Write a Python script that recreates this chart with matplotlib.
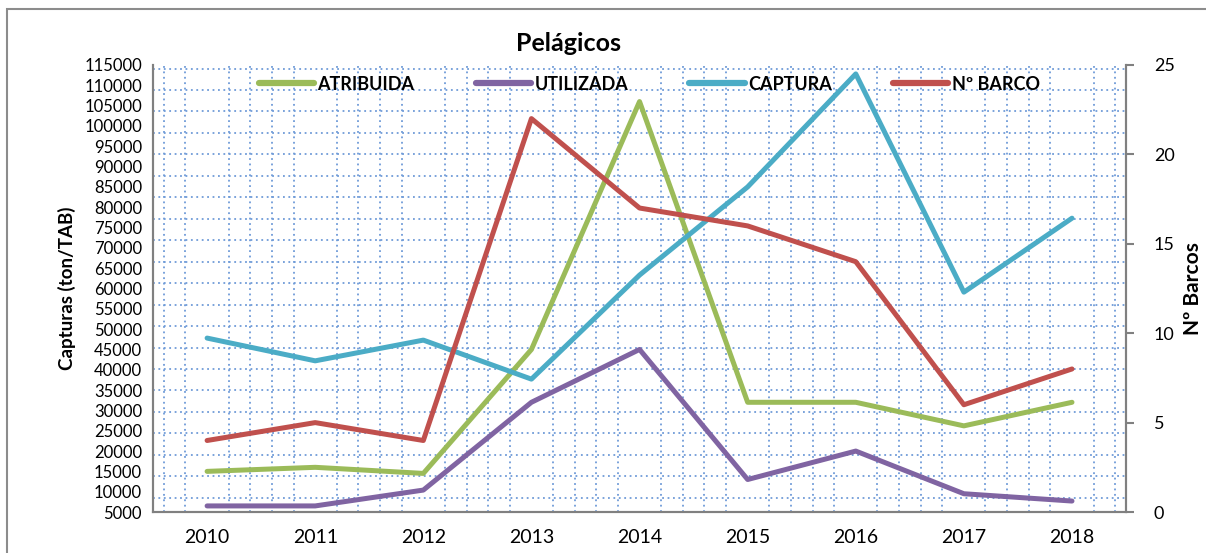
import numpy as np
import matplotlib
matplotlib.use("Agg")
import matplotlib.pyplot as plt
from matplotlib.patches import Rectangle

plt.rcParams['font.family'] = ['Lato', 'DejaVu Sans']

years = ["2010", "2011", "2012", "2013", "2014", "2015", "2016", "2017", "2018"]
atribuida = [15000, 16000, 14500, 45000, 106000, 32000, 32000, 26200, 32000]
utilizada = [6500, 6500, 10400, 32000, 45000, 13000, 20000, 9500, 7700]
captura = [47800, 42200, 47300, 37700, 63300, 85000, 112800, 59100, 77300]
n_barco = [4, 5, 4, 22, 17, 16, 14, 6, 8]

verde = "#9BBB59"
roxo = "#8064A2"
azul = "#4BACC6"
verm = "#C0504D"
grelha = "#6F9BD8"

fig = plt.figure(figsize=(12.06, 5.53), dpi=100)
ax = fig.add_axes([0.1269, 0.0741, 0.8068, 0.8084])
ax2 = ax.twinx()

x = np.arange(len(years))
l1, = ax.plot(x, atribuida, color=verde, lw=3.6, label="ATRIBUIDA", solid_capstyle="round")
l2, = ax.plot(x, utilizada, color=roxo, lw=3.6, label="UTILIZADA", solid_capstyle="round")
l3, = ax.plot(x, captura, color=azul, lw=3.6, label="CAPTURA", solid_capstyle="round")
l4, = ax2.plot(x, n_barco, color=verm, lw=3.6, label="Nº BARCO", solid_capstyle="round")

ax.set_xlim(-0.5, 8.5)
ax.set_ylim(5000, 115000)
ax2.set_ylim(0, 25)

ax.set_xticks(x)
ax.set_xticklabels(years, fontsize=14)
ax.set_yticks(np.arange(5000, 115001, 5000))
ax.tick_params(axis="y", labelsize=12, length=0, pad=8)
ax.tick_params(axis="x", length=0, pad=12)
ax2.set_yticks(np.arange(0, 26, 5))
ax2.tick_params(axis="y", labelsize=13, length=6, width=1.5, color="#808080", pad=14)

# grelha pontilhada
ax.set_xticks(np.arange(-0.4, 8.5, 0.2), minor=True)
ax.set_yticks(5000 + 4400 * np.arange(0.8, 25, 1.2), minor=True)
ax.tick_params(which="minor", length=0)
ax.grid(which="minor", color=grelha, linestyle=(0, (1, 2)), linewidth=1.3)
ax.grid(which="major", visible=False)
ax.set_axisbelow(True)

for a in (ax, ax2):
    a.spines["top"].set_visible(False)
    for s in ("left", "right", "bottom"):
        a.spines[s].set_color("#808080")
        a.spines[s].set_linewidth(1.5)

ax.set_ylabel("Capturas (ton/TAB)", fontsize=13.5, fontweight="bold", labelpad=6)
ax2.set_ylabel("Nº Barcos", fontsize=15, fontweight="bold", labelpad=6)
fig.text(0.4714, 0.922, "Pelágicos", fontsize=18, fontweight="bold", ha="center", va="center")

leg = ax2.legend(handles=[l1, l2, l3, l4], ncol=4, loc="center", bbox_to_anchor=(0.51, 0.957),
                 frameon=False, handlelength=3.05, handletextpad=0.2, columnspacing=3.4,
                 prop={"size": 13, "weight": "bold"})
for h in leg.get_lines():
    h.set_linewidth(4.5)

fig.patches.append(Rectangle((7 / 1206, -0.1), 1.2, 1.1 - 9 / 553, transform=fig.transFigure,
                             fill=False, edgecolor="#8c8c8c", linewidth=1.5))

fig.savefig("out.png", dpi=100)
